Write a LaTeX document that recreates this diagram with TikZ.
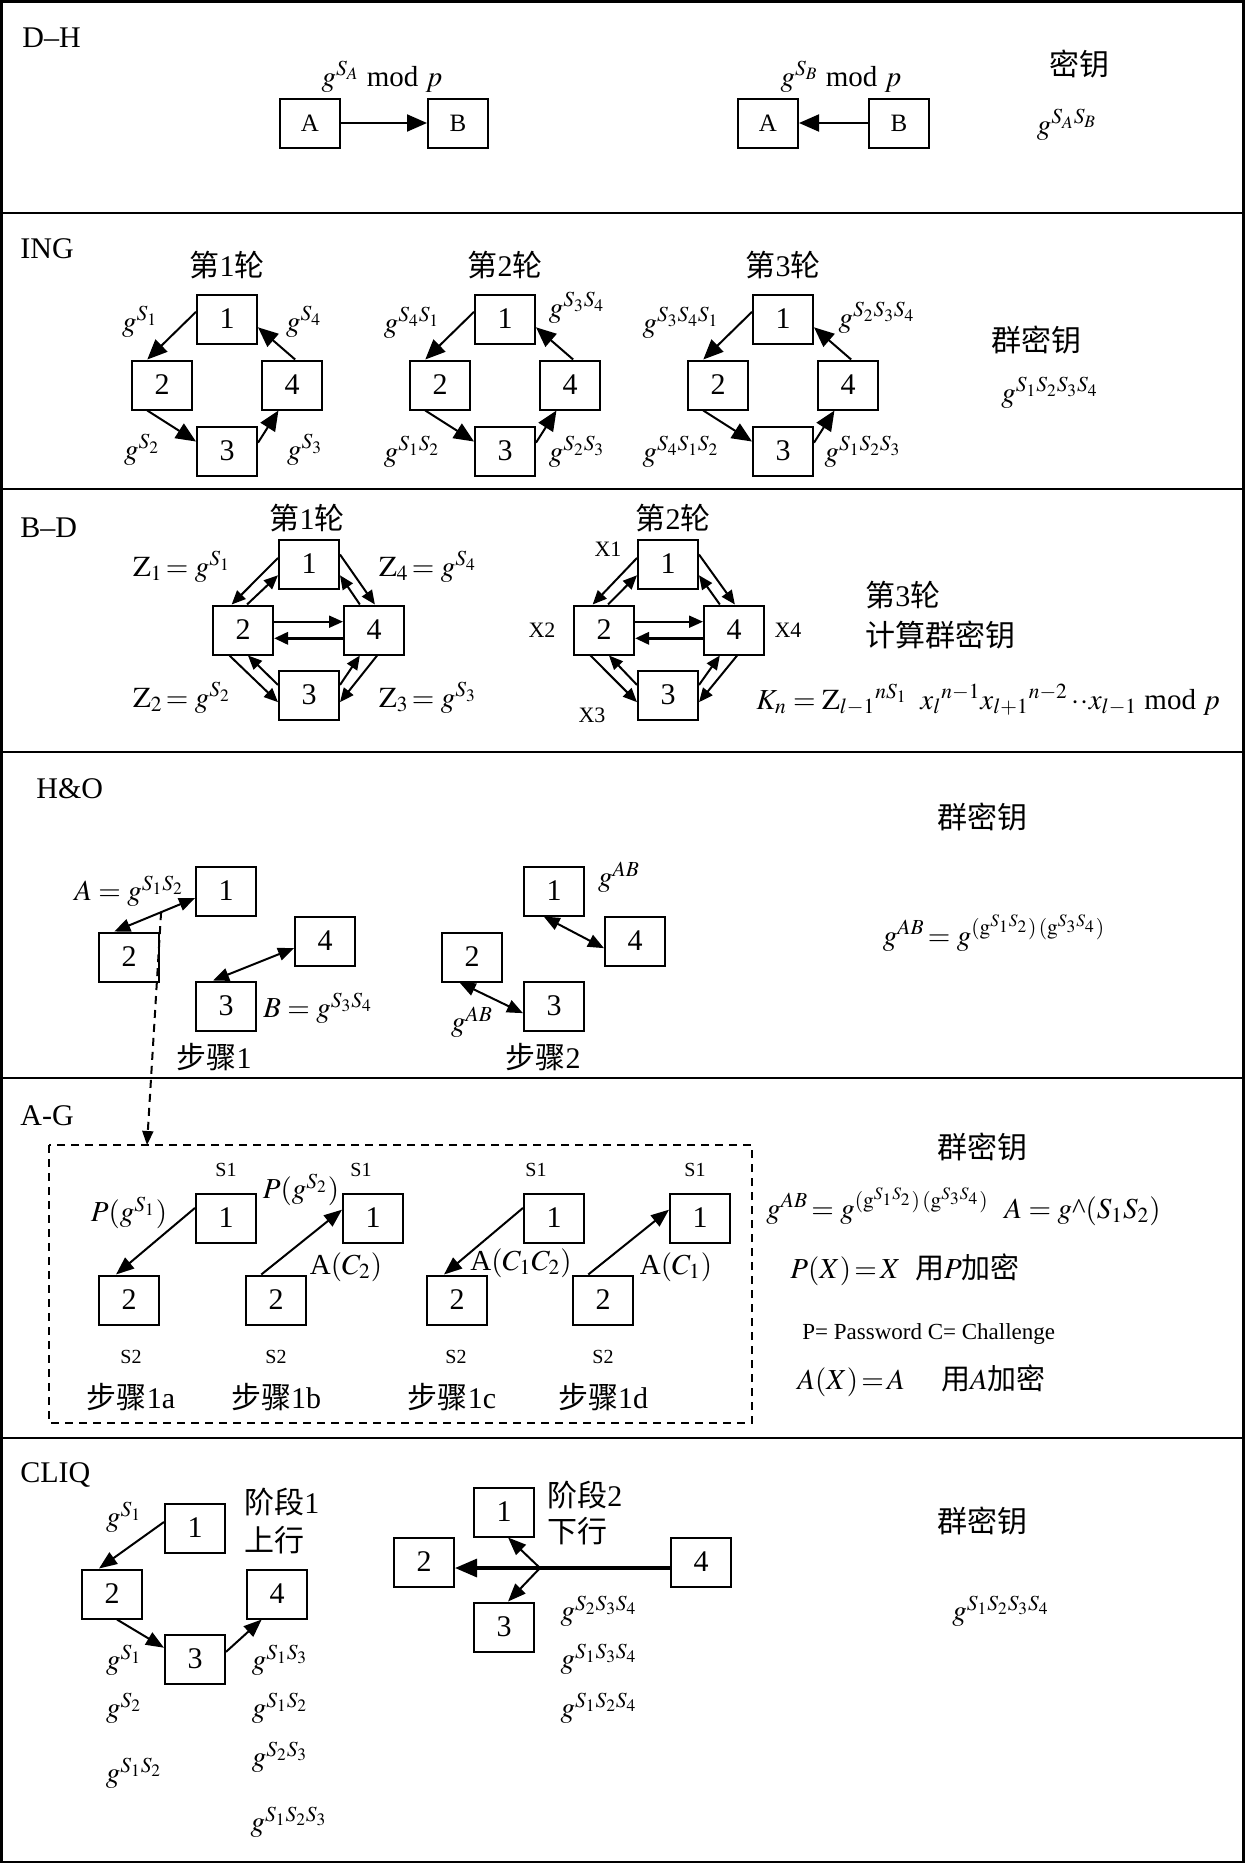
\documentclass[tikz,border=0pt]{standalone}
\usepackage{mathptmx}
\usepackage{fontspec}
\setmainfont{Liberation Serif}
\newfontfamily\cjkfont{Noto Sans CJK SC}
\usetikzlibrary{arrows.meta,calc}
\newcommand{\zh}[1]{{\cjkfont #1}}

\tikzset{
  box/.style={draw, line width=1pt, minimum width=30pt, minimum height=24.5pt,
    inner sep=0pt, font=\fontsize{15}{15}\selectfont},
  sec/.style={anchor=base west, inner sep=0pt, font=\fontsize{15}{15}\selectfont},
  lab/.style={inner sep=0pt, font=\fontsize{14.5}{16}\selectfont},
  zhlab/.style={inner sep=0pt, font=\fontsize{15}{18}\selectfont},
  small/.style={inner sep=0pt, font=\fontsize{10}{12}\selectfont},
  arr/.style={-{Triangle[length=9pt,width=7pt]}, line width=1pt},
  bigarr/.style={-{Triangle[length=10pt,width=8.5pt]}, line width=1pt},
  bdarr/.style={-{Triangle[length=7pt,width=6pt]}, line width=1pt},
  darr/.style={{Triangle[length=8pt,width=6.5pt]}-{Triangle[length=8pt,width=6.5pt]}, line width=1pt},
}

\begin{document}
\begin{tikzpicture}[x=0.5pt, y=-0.5pt]
  \useasboundingbox (0,0) rectangle (1244,1863);

  % frame and rows
  \draw[line width=1.5pt] (1,1) rectangle (1243,1862);
  \draw[line width=1.2pt] (1,213) -- (1243,213);
  \draw[line width=1.2pt] (1,489) -- (1243,489);
  \draw[line width=1.2pt] (1,752) -- (1243,752);
  \draw[line width=1.2pt] (1,1078) -- (1243,1078);
  \draw[line width=1.2pt] (1,1438) -- (1243,1438);

  % D-H
  \node[sec] (dh) at (22,47) {D–H};
  \node[box, font=\fontsize{12.5}{12}\selectfont] (dhA) at (310,123) {A};
  \node[box, font=\fontsize{12.5}{12}\selectfont] (dhB) at (458,123) {B};
  \draw[bigarr] (dhA) -- (dhB);
  \node[lab, anchor=base] (dhsa) at (382,86) {$g^{S_A}$ mod $p$};
  \node[box, font=\fontsize{12.5}{12}\selectfont] (dhA2) at (768,123) {A};
  \node[box, font=\fontsize{12.5}{12}\selectfont] (dhB2) at (899,123) {B};
  \draw[bigarr] (dhB2) -- (dhA2);
  \node[lab, anchor=base] (dhsb) at (841,86) {$g^{S_B}$ mod $p$};
  \node[zhlab] (dhkey) at (1079,64) {\zh{密钥}};
  \node[lab] (dhgab) at (1067,125) {$g^{S_AS_B}$};

  % ING
  \node[sec] (ing) at (20,258) {ING};
  \node[zhlab] (ir1) at (227,265) {\zh{第}1\zh{轮}};
  \node[zhlab] (ir2) at (505,265) {\zh{第}2\zh{轮}};
  \node[zhlab] (ir3) at (783,265) {\zh{第}3\zh{轮}};

  \node[box] (i11) at (227,319) {1};
  \node[box] (i12) at (162,385) {2};
  \node[box] (i14) at (292,385) {4};
  \node[box] (i13) at (227,451) {3};
  \draw[bigarr] (i11.167) -- (i12.120);
  \draw[bigarr] (i12.240) -- (i13.163);
  \draw[bigarr] (i13.15) -- (i14.242);
  \draw[bigarr] (i14.83) -- (i11.345);
  \node[lab] (i1a) at (140,322) {$g^{S_1}$};
  \node[lab] (i1b) at (304,322) {$g^{S_4}$};
  \node[lab] (i1c) at (142,450) {$g^{S_2}$};
  \node[lab] (i1d) at (305,450) {$g^{S_3}$};

  \node[box] (i21) at (505,319) {1};
  \node[box] (i22) at (440,385) {2};
  \node[box] (i24) at (570,385) {4};
  \node[box] (i23) at (505,451) {3};
  \draw[bigarr] (i21.167) -- (i22.120);
  \draw[bigarr] (i22.240) -- (i23.163);
  \draw[bigarr] (i23.15) -- (i24.242);
  \draw[bigarr] (i24.83) -- (i21.345);
  \node[lab] (i2a) at (412,323) {$g^{S_4S_1}$};
  \node[lab] (i2b) at (577,308) {$g^{S_3S_4}$};
  \node[lab] (i2c) at (412,452) {$g^{S_1S_2}$};
  \node[lab] (i2d) at (577,452) {$g^{S_2S_3}$};

  \node[box] (i31) at (783,319) {1};
  \node[box] (i32) at (718,385) {2};
  \node[box] (i34) at (848,385) {4};
  \node[box] (i33) at (783,451) {3};
  \draw[bigarr] (i31.167) -- (i32.120);
  \draw[bigarr] (i32.240) -- (i33.163);
  \draw[bigarr] (i33.15) -- (i34.242);
  \draw[bigarr] (i34.83) -- (i31.345);
  \node[lab] (i3a) at (681,323) {$g^{S_3S_4S_1}$};
  \node[lab] (i3b) at (877,318) {$g^{S_2S_3S_4}$};
  \node[lab] (i3c) at (681,452) {$g^{S_4S_1S_2}$};
  \node[lab] (i3d) at (863,452) {$g^{S_1S_2S_3}$};

  \node[zhlab] (ingkey) at (1036,340) {\zh{群密钥}};
  \node[lab] (inggk) at (1050,393) {$g^{S_1S_2S_3S_4}$};

  % B-D
  \node[sec] (bd) at (20,537) {B–D};
  \node[zhlab] (br1) at (307,518) {\zh{第}1\zh{轮}};
  \node[box] (b1) at (309,564) {1};
  \node[box] (b2) at (243,630) {2};
  \node[box] (b4) at (374,630) {4};
  \node[box] (b3) at (309,695) {3};
  \draw[bdarr] (b1.169) -- (b2.114);
  \draw[bdarr] (b2.81) -- (b1.200);
  \draw[bdarr] (b1.17) -- (b4.88);
  \draw[bdarr] (b4.119) -- (b1.340);
  \draw[bdarr] (b2.15) -- (b4.165);
  \draw[bdarr, line width=1.6pt] (b4.195) -- (b2.345);
  \draw[bdarr] (b2.242) -- (b3.193);
  \draw[bdarr] (b3.162) -- (b2.281);
  \draw[bdarr] (b3.18) -- (b4.241);
  \draw[bdarr] (b4.277) -- (b3.347);
  \node[lab] (bz1) at (182,567) {$\mathrm{Z}_1\!=g^{S_1}$};
  \node[lab] (bz4) at (428,567) {$\mathrm{Z}_4\!=g^{S_4}$};
  \node[lab] (bz2) at (182,698) {$\mathrm{Z}_2\!=g^{S_2}$};
  \node[lab] (bz3) at (428,698) {$\mathrm{Z}_3\!=g^{S_3}$};

  \node[zhlab] (br2) at (673,518) {\zh{第}2\zh{轮}};
  \node[box] (c1) at (668,564) {1};
  \node[box] (c2) at (604,630) {2};
  \node[box] (c4) at (734,630) {4};
  \node[box] (c3) at (668,695) {3};
  \draw[bdarr] (c1.169) -- (c2.114);
  \draw[bdarr] (c2.81) -- (c1.200);
  \draw[bdarr] (c1.17) -- (c4.88);
  \draw[bdarr] (c4.119) -- (c1.340);
  \draw[bdarr] (c2.15) -- (c4.165);
  \draw[bdarr, line width=1.6pt] (c4.195) -- (c2.345);
  \draw[bdarr] (c2.242) -- (c3.193);
  \draw[bdarr] (c3.162) -- (c2.281);
  \draw[bdarr] (c3.18) -- (c4.241);
  \draw[bdarr] (c4.277) -- (c3.347);
  \node[small, font=\fontsize{11}{12}\selectfont] (cx1) at (608,549) {X1};
  \node[small, font=\fontsize{11}{12}\selectfont] (cx2) at (542,630) {X2};
  \node[small, font=\fontsize{11}{12}\selectfont] (cx4) at (788,630) {X4};
  \node[small, font=\fontsize{11}{12}\selectfont] (cx3) at (592,715) {X3};

  \node[zhlab, anchor=west] (br3) at (865,595) {\zh{第}3\zh{轮}};
  \node[zhlab, anchor=west] (bkey) at (865,635) {\zh{计算群密钥}};
  \node[lab, anchor=west] (bkn) at (756,700)
    {$K_n = \mathrm{Z}_{l-1}{}^{nS_1}\;\; x_l{}^{n-1}x_{l+1}{}^{n-2}\cdot\!\cdot x_{l-1}$ mod $p$};

  % H&O
  \node[sec] (ho) at (36,798) {H\&O};
  \node[zhlab] (hokey) at (982,817) {\zh{群密钥}};
  \node[lab] (hogk) at (994,933) {$g^{AB}\!=g^{(\mathrm{g}^{S_1S_2})\,(\mathrm{g}^{S_3S_4})}$};

  \node[box] (h1) at (226,891) {1};
  \node[box] (h2) at (129,957) {2};
  \node[box] (h4) at (325,941) {4};
  \node[box] (h3) at (226,1006) {3};
  \draw[darr] (h2.120) -- coordinate[pos=0.58] (homid) (h1.193);
  \draw[darr] (h3.117) -- (h4.193);
  \node[lab] (hoa) at (129,891) {$A = g^{S_1S_2}$};
  \node[lab] (hob) at (318,1008) {$B = g^{S_3S_4}$};
  \node[zhlab] (hos1) at (214,1057) {\zh{步骤}1};

  \node[box] (k1) at (554,891) {1};
  \node[box] (k2) at (472,957) {2};
  \node[box] (k4) at (635,941) {4};
  \node[box] (k3) at (554,1006) {3};
  \draw[darr] (k1.248) -- (k4.193);
  \draw[darr] (k2.244) -- (k3.193);
  \node[lab] (koa) at (619,877) {$g^{AB}$};
  \node[lab] (kob) at (472,1022) {$g^{AB}$};
  \node[zhlab] (hos2) at (543,1057) {\zh{步骤}2};

  % A-G
  \node[sec] (ag) at (20,1125) {A-G};
  \draw[line width=1pt, dash pattern=on 4pt off 3pt] (49,1145) rectangle (752,1423);
  \coordinate (agtop) at (147,1145);
  \draw[-{Triangle[length=7pt,width=5.5pt]}, line width=1pt, dash pattern=on 4pt off 3pt] (homid) -- (agtop);

  \node[box] (ga1) at (226,1218) {1};
  \node[box] (ga2) at (129,1300) {2};
  \draw[arr] (ga1.162) -- (ga2.117);
  \node[small] (gas1) at (226,1170) {S1};
  \node[small] (gas2) at (131,1357) {S2};
  \node[lab] (gap) at (129,1213) {$P(g^{S_1})$};
  \node[zhlab] (gast) at (131,1397) {\zh{步骤}1a};

  \node[box] (gb1) at (373,1218) {1};
  \node[box] (gb2) at (276,1300) {2};
  \draw[arr] (gb2.120) -- (gb1.165);
  \node[small] (gbs1) at (361,1170) {S1};
  \node[small] (gbs2) at (276,1357) {S2};
  \node[lab] (gbp) at (301,1190) {$P(g^{S_2})$};
  \node[lab] (gba) at (346,1267) {A$(C_2)$};
  \node[zhlab] (gbst) at (276,1397) {\zh{步骤}1b};

  \node[box] (gc1) at (554,1218) {1};
  \node[box] (gc2) at (457,1300) {2};
  \draw[arr] (gc1.162) -- (gc2.117);
  \node[small] (gcs1) at (536,1170) {S1};
  \node[small] (gcs2) at (456,1357) {S2};
  \node[lab] (gca) at (521,1263) {A$(C_1C_2)$};
  \node[zhlab] (gcst) at (452,1397) {\zh{步骤}1c};

  \node[box] (gd1) at (700,1218) {1};
  \node[box] (gd2) at (603,1300) {2};
  \draw[arr] (gd2.120) -- (gd1.165);
  \node[small] (gds1) at (695,1170) {S1};
  \node[small] (gds2) at (603,1357) {S2};
  \node[lab] (gda) at (676,1267) {A$(C_1)$};
  \node[zhlab] (gdst) at (603,1397) {\zh{步骤}1d};

  \node[zhlab] (agkey) at (982,1147) {\zh{群密钥}};
  \node[lab, anchor=base west] (aggk) at (766,1218)
    {$g^{AB}\!=g^{(\mathrm{g}^{S_1S_2})\,(\mathrm{g}^{S_3S_4})}$};
  \node[lab, anchor=base west] (aga) at (1004,1218) {$A = g$\textasciicircum$(S_1S_2)$};
  \node[lab, anchor=west] (agp) at (790,1270) {$P(X)\!=\!X$\ \ \zh{用}$P$\zh{加密}};
  \node[lab, anchor=west, font=\fontsize{11.5}{13}\selectfont] (agpc) at (802,1334) {P= Password C= Challenge};
  \node[lab, anchor=west] (agax) at (797,1381) {$A(X)\!=\!A$\quad\ \zh{用}$A$\zh{加密}};

  % CLIQ
  \node[sec] (cliq) at (20,1482) {CLIQ};
  \node[box] (q1) at (195,1528) {1};
  \node[box] (q2) at (112,1594) {2};
  \node[box] (q4) at (277,1594) {4};
  \node[box] (q3) at (195,1659) {3};
  \draw[arr] (q1.169) -- (q2.117);
  \draw[arr] (q2.281) -- (q3.160);
  \draw[arr] (q3.13) -- (q4.239);
  \node[zhlab, anchor=west] (qph1) at (244,1502) {\zh{阶段}1};
  \node[zhlab, anchor=west] (qup) at (244,1540) {\zh{上行}};
  \node[lab] (qa) at (124,1517) {$g^{S_1}$};
  \node[lab] (qb) at (124,1660) {$g^{S_1}$};
  \node[lab] (qc) at (124,1708) {$g^{S_2}$};
  \node[lab] (qd) at (134,1773) {$g^{S_1S_2}$};
  \node[lab] (qe) at (280,1660) {$g^{S_1S_3}$};
  \node[lab] (qf) at (280,1708) {$g^{S_1S_2}$};
  \node[lab] (qg) at (280,1757) {$g^{S_2S_3}$};
  \node[lab] (qh) at (289,1822) {$g^{S_1S_2S_3}$};

  \node[box] (r1) at (504,1512) {1};
  \node[box] (r2) at (424,1562) {2};
  \node[box] (r4) at (701,1562) {4};
  \node[box] (r3) at (504,1627) {3};
  \coordinate (rbr) at (540,1568);
  \draw[line width=1.6pt] (r4.west |- rbr) -- (rbr);
  \draw[-{Triangle[length=11pt,width=9pt]}, line width=1.6pt] (rbr) -- (r2.east |- rbr);
  \draw[arr] (rbr) -- (r1.279);
  \draw[arr] (rbr) -- (r3.81);
  \node[zhlab, anchor=west] (rph2) at (547,1495) {\zh{阶段}2};
  \node[zhlab, anchor=west] (rdown) at (547,1531) {\zh{下行}};
  \node[lab] (ra) at (599,1611) {$g^{S_2S_3S_4}$};
  \node[lab] (rb) at (599,1659) {$g^{S_1S_3S_4}$};
  \node[lab] (rc) at (599,1708) {$g^{S_1S_2S_4}$};

  \node[zhlab] (cliqkey) at (982,1521) {\zh{群密钥}};
  \node[lab] (cliqgk) at (1001,1611) {$g^{S_1S_2S_3S_4}$};
\end{tikzpicture}
\end{document}
